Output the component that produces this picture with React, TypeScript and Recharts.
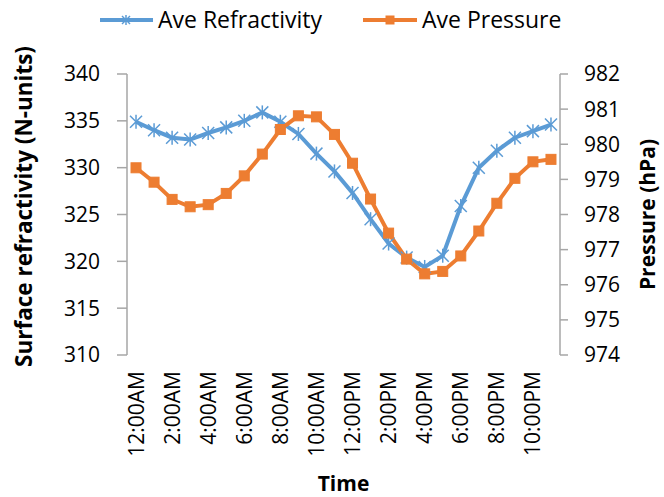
import { LineChart, Line, XAxis, YAxis, Legend, Label } from "recharts";

const hours = [
  "12:00AM", "1:00AM", "2:00AM", "3:00AM", "4:00AM", "5:00AM",
  "6:00AM", "7:00AM", "8:00AM", "9:00AM", "10:00AM", "11:00AM",
  "12:00PM", "1:00PM", "2:00PM", "3:00PM", "4:00PM", "5:00PM",
  "6:00PM", "7:00PM", "8:00PM", "9:00PM", "10:00PM", "11:00PM",
];

const refractivity = [
  334.9, 334.0, 333.2, 333.0, 333.7, 334.3, 335.0, 335.9, 334.9, 333.6, 331.5, 329.6,
  327.3, 324.5, 321.9, 320.4, 319.4, 320.6, 325.9, 330.0, 331.8, 333.2, 333.9, 334.6,
];

const pressure = [
  979.33, 978.92, 978.43, 978.22, 978.28, 978.6, 979.1, 979.72, 980.42, 980.81, 980.78, 980.28,
  979.46, 978.44, 977.47, 976.73, 976.31, 976.38, 976.82, 977.53, 978.32, 979.03, 979.5, 979.57,
];

const leftTicks = [310, 315, 320, 325, 330, 335, 340];
const rightTicks = [974, 975, 976, 977, 978, 979, 980, 981, 982];
const boundaryTicks = hours.map((_, i) => i).concat(24);
const labelTicks = hours.map((_, i) => i + 0.5).filter((_, i) => i % 2 === 0);

const data = hours.map((h, i) => ({
  x: i + 0.5,
  hour: h,
  refractivity: refractivity[i],
  pressure: pressure[i],
}));

const BLUE = "#5B9BD5";
const ORANGE = "#ED7D31";
const AXIS = "#A6A6A6";
const FONT = "'Open Sans', sans-serif";

const Star = ({ cx, cy, r = 6 }: { cx: number; cy: number; r?: number }) => (
  <g stroke={BLUE} strokeWidth={1.5}>
    <line x1={cx - r} y1={cy - r} x2={cx + r} y2={cy + r} />
    <line x1={cx - r} y1={cy + r} x2={cx + r} y2={cy - r} />
    <line x1={cx} y1={cy - r - 1} x2={cx} y2={cy + r + 1} />
  </g>
);

const Square = ({ cx, cy, s = 10 }: { cx: number; cy: number; s?: number }) => (
  <rect x={cx - s / 2} y={cy - s / 2} width={s} height={s} fill={ORANGE} stroke={ORANGE} />
);

const TimeTick = (props: any) => {
  const { x, y, payload } = props;
  const i = Math.round(payload.value - 0.5);
  const ty = y + 8;
  return (
    <text
      x={x}
      y={ty}
      dy="0.36em"
      textAnchor="end"
      transform={`rotate(-90, ${x}, ${ty})`}
      fontFamily={FONT}
      fontSize={21}
      fill="#000"
    >
      {hours[i]}
    </text>
  );
};

const LegendBox = () => (
  <svg width={664} height={40}>
    <line x1={100} y1={20} x2={153} y2={20} stroke={BLUE} strokeWidth={4} />
    <Star cx={126} cy={20} r={4} />
    <text x={158} y={20} dy="0.36em" fontFamily={FONT} fontSize={23} fill="#000">
      Ave Refractivity
    </text>
    <line x1={363} y1={20} x2={417} y2={20} stroke={ORANGE} strokeWidth={4} />
    <Square cx={390} cy={20} s={8} />
    <text x={422} y={20} dy="0.36em" fontFamily={FONT} fontSize={23} fill="#000">
      Ave Pressure
    </text>
  </svg>
);

const App = () => {
  return (
    <div style={{ width: 664, height: 497 }}>
      <style>{"body{margin:0}"}</style>
      <LineChart
        width={664}
        height={497}
        data={data}
        margin={{ top: 74, right: 0, left: 0, bottom: 0 }}
      >
        <XAxis
          xAxisId="grid"
          dataKey="x"
          type="number"
          domain={[0, 24]}
          ticks={boundaryTicks}
          interval={0}
          height={0}
          stroke={AXIS}
          strokeWidth={1.5}
          tickSize={7}
          tickFormatter={() => ""}
        />
        <XAxis
          xAxisId="lbl"
          dataKey="x"
          type="number"
          domain={[0, 24]}
          ticks={labelTicks}
          interval={0}
          height={142}
          axisLine={false}
          tickLine={false}
          tick={<TimeTick />}
        >
          <Label
            content={(p: any) => (
              <text
                x={p.viewBox.x + p.viewBox.width / 2}
                y={p.viewBox.y + 128}
                dy="0.36em"
                textAnchor="middle"
                fontFamily={FONT}
                fontWeight="bold"
                fontSize={21}
                fill="#000"
              >
                Time
              </text>
            )}
          />
        </XAxis>
        <YAxis
          yAxisId="left"
          domain={[310, 340]}
          ticks={leftTicks}
          interval={0}
          width={127}
          stroke={AXIS}
          strokeWidth={1.5}
          tickSize={10}
          tickMargin={17}
          tick={{ fill: "#000", fontSize: 21, fontFamily: FONT }}
        >
          <Label
            content={(p: any) => {
              const cx = p.viewBox.x + 24;
              const cy = p.viewBox.y + p.viewBox.height / 2 - 8;
              return (
                <text
                  x={cx}
                  y={cy}
                  dy="0.36em"
                  textAnchor="middle"
                  transform={`rotate(-90, ${cx}, ${cy})`}
                  fontFamily={FONT}
                  fontWeight="bold"
                  fontSize={22.5}
                  fill="#000"
                >
                  Surface refractivity (N-units)
                </text>
              );
            }}
          />
        </YAxis>
        <YAxis
          yAxisId="right"
          orientation="right"
          domain={[974, 982]}
          ticks={rightTicks}
          interval={0}
          width={104}
          stroke={AXIS}
          strokeWidth={1.5}
          tickSize={8}
          tickMargin={16}
          tick={{ fill: "#000", fontSize: 21, fontFamily: FONT }}
        >
          <Label
            content={(p: any) => {
              const cx = p.viewBox.x + 87;
              const cy = p.viewBox.y + p.viewBox.height / 2;
              return (
                <text
                  x={cx}
                  y={cy}
                  dy="0.36em"
                  textAnchor="middle"
                  transform={`rotate(-90, ${cx}, ${cy})`}
                  fontFamily={FONT}
                  fontWeight="bold"
                  fontSize={21}
                  fill="#000"
                >
                  Pressure (hPa)
                </text>
              );
            }}
          />
        </YAxis>
        <Legend
          verticalAlign="middle"
          align="center"
          content={<LegendBox />}
          wrapperStyle={{ top: 0, left: 0, width: 664, height: 40 }}
        />
        <Line
          xAxisId="grid"
          yAxisId="left"
          dataKey="refractivity"
          stroke={BLUE}
          strokeWidth={4}
          isAnimationActive={false}
          dot={(p: any) => <Star key={`s${p.index}`} cx={p.cx} cy={p.cy} />}
        />
        <Line
          xAxisId="grid"
          yAxisId="right"
          dataKey="pressure"
          stroke={ORANGE}
          strokeWidth={4}
          isAnimationActive={false}
          dot={(p: any) => <Square key={`q${p.index}`} cx={p.cx} cy={p.cy} />}
        />
      </LineChart>
    </div>
  );
};

export default App;
